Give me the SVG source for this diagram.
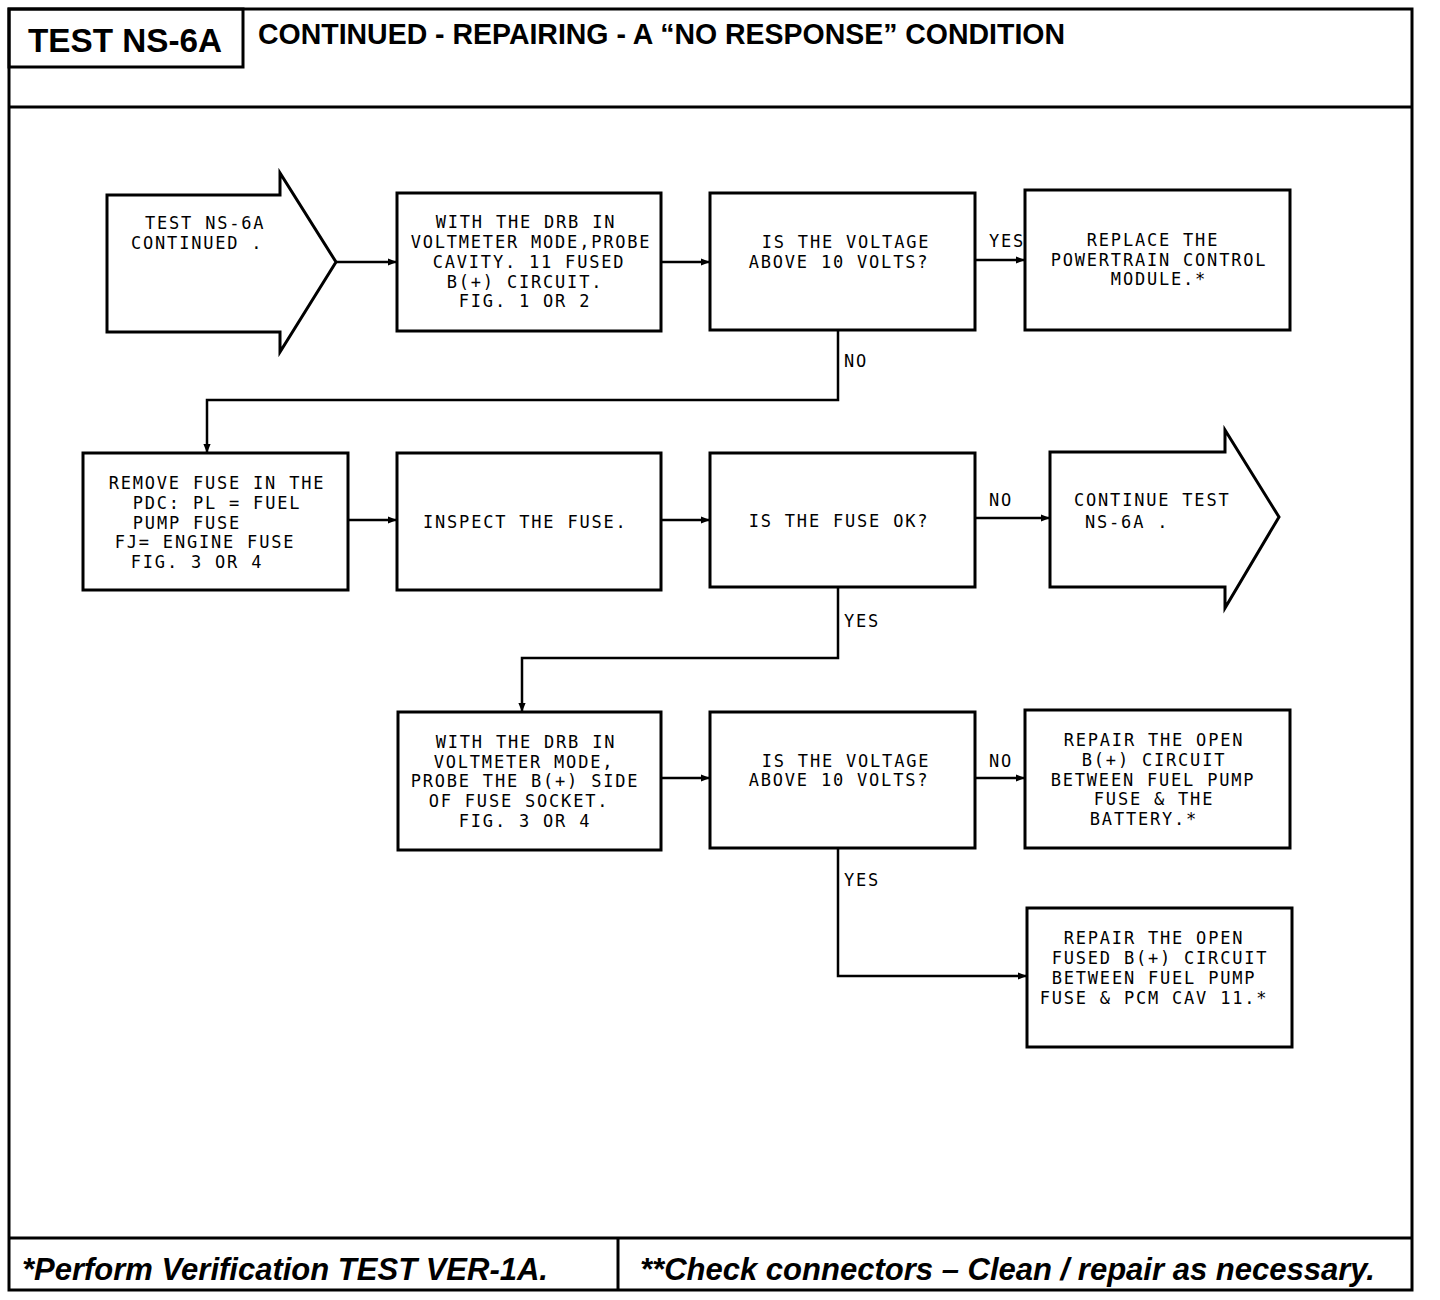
<svg xmlns="http://www.w3.org/2000/svg" width="1440" height="1300" viewBox="0 0 1440 1300">
<defs>
<style>
.frame{fill:none;stroke:#000;stroke-width:3}
.box{fill:#fff;stroke:#000;stroke-width:3}
.conn{fill:none;stroke:#000;stroke-width:2.5}
.t{font-family:"DejaVu Sans Mono","Liberation Mono",monospace;font-size:17px;letter-spacing:1.8px;fill:#000}
.c{text-anchor:middle}
.lbl{font-family:"DejaVu Sans Mono","Liberation Mono",monospace;font-size:17px;letter-spacing:1.8px;fill:#000}
.hdr{font-family:"Liberation Sans",Arial,sans-serif;font-weight:bold;fill:#000}
.ftr{font-family:"Liberation Sans",Arial,sans-serif;font-weight:bold;font-style:italic;fill:#000}
</style>
<marker id="ah" viewBox="0 0 10 10" refX="10" refY="5" markerWidth="9" markerHeight="9" markerUnits="userSpaceOnUse" orient="auto">
<path d="M0,1 L10,5 L0,9 Z" fill="#000"/>
</marker>
</defs>
<rect width="1440" height="1300" fill="#fff"/>
<g id="frame">
<rect class="frame" x="9" y="9" width="1403" height="1281"/>
<rect class="frame" x="9" y="9" width="234" height="58"/>
<line class="frame" x1="9" y1="107" x2="1412" y2="107"/>
<line class="frame" x1="9" y1="1238" x2="1412" y2="1238"/>
<line class="frame" x1="618" y1="1238" x2="618" y2="1290"/>
<text class="hdr" x="28" y="52" font-size="33" textLength="194" lengthAdjust="spacingAndGlyphs">TEST NS-6A</text>
<text class="hdr" x="258" y="44" font-size="29" textLength="807" lengthAdjust="spacingAndGlyphs">CONTINUED -  REPAIRING - A “NO RESPONSE” CONDITION</text>
<text class="ftr" x="22" y="1280" font-size="31" textLength="526" lengthAdjust="spacingAndGlyphs">*Perform Verification TEST VER-1A.</text>
<text class="ftr" x="640" y="1280" font-size="31" textLength="735" lengthAdjust="spacingAndGlyphs">**Check connectors – Clean / repair as necessary.</text>
</g>
<g id="connectors">
<line class="conn" x1="336" y1="262" x2="397" y2="262" marker-end="url(#ah)"/>
<line class="conn" x1="661" y1="262" x2="710" y2="262" marker-end="url(#ah)"/>
<line class="conn" x1="975" y1="260" x2="1025" y2="260" marker-end="url(#ah)"/>
<polyline class="conn" points="838,330 838,400 207,400 207,453" marker-end="url(#ah)"/>
<line class="conn" x1="348" y1="520" x2="397" y2="520" marker-end="url(#ah)"/>
<line class="conn" x1="661" y1="520" x2="710" y2="520" marker-end="url(#ah)"/>
<line class="conn" x1="975" y1="518" x2="1050" y2="518" marker-end="url(#ah)"/>
<polyline class="conn" points="838,587 838,658 522,658 522,712" marker-end="url(#ah)"/>
<line class="conn" x1="661" y1="778" x2="710" y2="778" marker-end="url(#ah)"/>
<line class="conn" x1="975" y1="778" x2="1025" y2="778" marker-end="url(#ah)"/>
<polyline class="conn" points="838,848 838,976 1027,976" marker-end="url(#ah)"/>
<text class="lbl" x="989" y="247">YES</text>
<text class="lbl" x="844" y="367">NO</text>
<text class="lbl" x="989" y="506">NO</text>
<text class="lbl" x="844" y="627">YES</text>
<text class="lbl" x="989" y="767">NO</text>
<text class="lbl" x="844" y="886">YES</text>
</g>
<g id="n1">
<path class="box" d="M107,195 L280,195 L280,173 L336,262 L280,352 L280,332 L107,332 Z"/>
<text class="t" x="145" y="229">TEST NS-6A</text>
<text class="t" x="131" y="249">CONTINUED .</text>
</g>
<g id="n2">
<rect class="box" x="397" y="193" width="264" height="138"/>
<text class="t c" x="526" y="228">WITH THE DRB IN</text>
<text class="t c" x="531" y="248">VOLTMETER MODE,PROBE</text>
<text class="t c" x="529" y="268">CAVITY. 11 FUSED</text>
<text class="t c" x="525" y="288">B(+) CIRCUIT.</text>
<text class="t c" x="525" y="307">FIG. 1 OR 2</text>
</g>
<g id="n3">
<rect class="box" x="710" y="193" width="265" height="137"/>
<text class="t c" x="846" y="248">IS THE VOLTAGE</text>
<text class="t c" x="839" y="268">ABOVE 10 VOLTS?</text>
</g>
<g id="n4">
<rect class="box" x="1025" y="190" width="265" height="140"/>
<text class="t c" x="1153" y="246">REPLACE THE</text>
<text class="t c" x="1159" y="266">POWERTRAIN CONTROL</text>
<text class="t c" x="1159" y="285">MODULE.*</text>
</g>
<g id="n5">
<rect class="box" x="83" y="453" width="265" height="137"/>
<text class="t c" x="217" y="489">REMOVE FUSE IN THE</text>
<text class="t c" x="217" y="509">PDC: PL = FUEL</text>
<text class="t c" x="187" y="529">PUMP FUSE</text>
<text class="t c" x="205" y="548">FJ= ENGINE FUSE</text>
<text class="t c" x="197" y="568">FIG. 3 OR 4</text>
</g>
<g id="n6">
<rect class="box" x="397" y="453" width="264" height="137"/>
<text class="t" x="423" y="528">INSPECT THE FUSE.</text>
</g>
<g id="n7">
<rect class="box" x="710" y="453" width="265" height="134"/>
<text class="t c" x="839" y="527">IS THE FUSE OK?</text>
</g>
<g id="n8">
<path class="box" d="M1050,452 L1225,452 L1225,430 L1279,517 L1225,608 L1225,587 L1050,587 Z"/>
<text class="t" x="1074" y="506">CONTINUE TEST</text>
<text class="t" x="1085" y="528">NS-6A .</text>
</g>
<g id="n9">
<rect class="box" x="398" y="712" width="263" height="138"/>
<text class="t c" x="526" y="748">WITH THE DRB IN</text>
<text class="t c" x="524" y="768">VOLTMETER MODE,</text>
<text class="t c" x="525" y="787">PROBE THE B(+) SIDE</text>
<text class="t c" x="519" y="807">OF FUSE SOCKET.</text>
<text class="t c" x="525" y="827">FIG. 3 OR 4</text>
</g>
<g id="n10">
<rect class="box" x="710" y="712" width="265" height="136"/>
<text class="t c" x="846" y="767">IS THE VOLTAGE</text>
<text class="t c" x="839" y="786">ABOVE 10 VOLTS?</text>
</g>
<g id="n11">
<rect class="box" x="1025" y="710" width="265" height="138"/>
<text class="t c" x="1154" y="746">REPAIR THE OPEN</text>
<text class="t c" x="1154" y="766">B(+) CIRCUIT</text>
<text class="t c" x="1153" y="786">BETWEEN FUEL PUMP</text>
<text class="t c" x="1154" y="805">FUSE &amp; THE</text>
<text class="t c" x="1144" y="825">BATTERY.*</text>
</g>
<g id="n12">
<rect class="box" x="1027" y="908" width="265" height="139"/>
<text class="t c" x="1154" y="944">REPAIR THE OPEN</text>
<text class="t c" x="1160" y="964">FUSED B(+) CIRCUIT</text>
<text class="t c" x="1154" y="984">BETWEEN FUEL PUMP</text>
<text class="t c" x="1154" y="1004">FUSE &amp; PCM CAV 11.*</text>
</g>
</svg>
